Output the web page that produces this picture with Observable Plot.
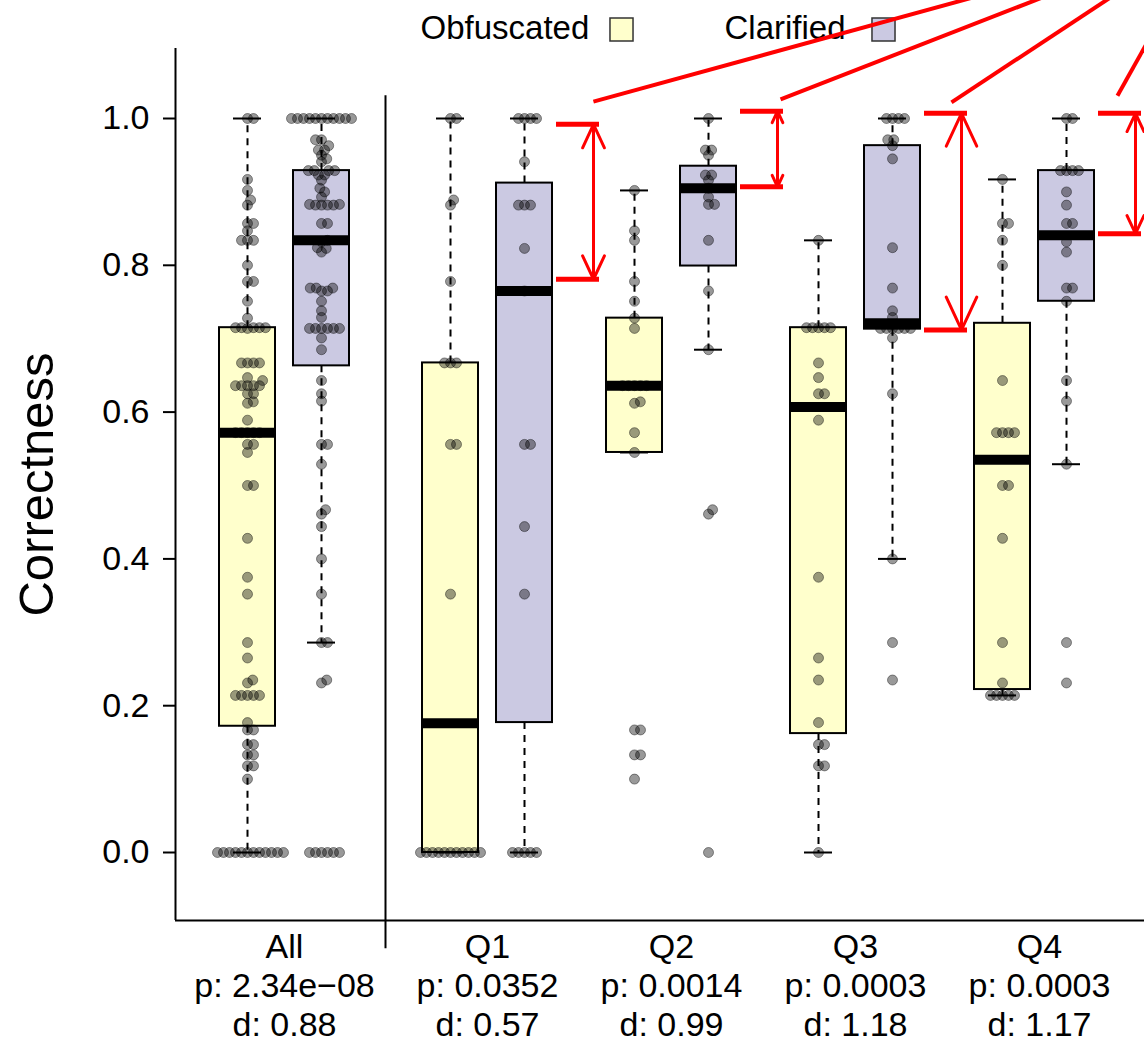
<!DOCTYPE html>
<html><head><meta charset="utf-8">
<script src="https://cdn.jsdelivr.net/npm/d3@7"></script>
<script src="https://cdn.jsdelivr.net/npm/@observablehq/plot@0.6"></script>
<style>body{margin:0;background:#fff;overflow:hidden}</style>
</head><body><div id="chart"></div>
<script>
// ---------- data ----------
const groups = ["All", "Q1", "Q2", "Q3", "Q4"];
const series = ["Obfuscated", "Clarified"];
const pLabels = ["2.34e\u221208", "0.0352", "0.0014", "0.0003", "0.0003"];
const dLabels = ["0.88", "0.57", "0.99", "1.18", "1.17"];
const yTicks = [0, 0.2, 0.4, 0.6, 0.8, 1.0];

const q1Obfuscated = [1, 1, 0.889, 0.882, 0.778, 0.667, 0.667, 0.667, 0.556, 0.556, 0.352, 0, 0, 0, 0, 0, 0, 0, 0, 0, 0, 0];
const q1Clarified = [1, 1, 1, 1, 0.941, 0.882, 0.882, 0.882, 0.823, 0.765, 0.556, 0.556, 0.444, 0.352, 0, 0, 0, 0, 0];
const q2Obfuscated = [0.902, 0.847, 0.834, 0.778, 0.751, 0.728, 0.714, 0.636, 0.636, 0.636, 0.636, 0.636, 0.614, 0.612, 0.572, 0.545, 0.167, 0.167, 0.133, 0.133, 0.100];
const q2Clarified = [1, 0.957, 0.957, 0.950, 0.923, 0.923, 0.916, 0.905, 0.893, 0.883, 0.883, 0.834, 0.765, 0.685, 0.467, 0.461, 0];
const q3Obfuscated = [0.834, 0.715, 0.715, 0.715, 0.715, 0.715, 0.667, 0.647, 0.625, 0.625, 0.589, 0.375, 0.265, 0.235, 0.177, 0.147, 0.147, 0.118, 0.118, 0];
const q3Clarified = [1, 1, 1, 1, 0.971, 0.971, 0.963, 0.945, 0.824, 0.769, 0.738, 0.729, 0.714, 0.714, 0.714, 0.714, 0.714, 0.714, 0.701, 0.625, 0.400, 0.286, 0.235];
const q4Obfuscated = [0.917, 0.857, 0.857, 0.834, 0.800, 0.643, 0.572, 0.572, 0.572, 0.572, 0.500, 0.500, 0.428, 0.286, 0.231, 0.214, 0.214, 0.214, 0.214, 0.214];
const q4Clarified = [1, 1, 0.929, 0.929, 0.929, 0.929, 0.900, 0.882, 0.857, 0.857, 0.832, 0.818, 0.769, 0.769, 0.751, 0.643, 0.615, 0.529, 0.286, 0.231];

// box statistics (All, Q1..Q4)
const obfWhiskerLow  = [0.000, 0.000, 0.545, 0.000, 0.214];
const obfHingeLow    = [0.172, 0.000, 0.545, 0.162, 0.222];
const obfMedian      = [0.572, 0.176, 0.636, 0.607, 0.535];
const obfHingeHigh   = [0.715, 0.667, 0.728, 0.715, 0.721];
const obfWhiskerHigh = [1.000, 1.000, 0.902, 0.834, 0.917];
const clarWhiskerLow  = [0.286, 0.000, 0.685, 0.400, 0.529];
const clarHingeLow    = [0.663, 0.177, 0.799, 0.713, 0.751];
const clarMedian      = [0.834, 0.765, 0.905, 0.721, 0.841];
const clarHingeHigh   = [0.929, 0.912, 0.935, 0.963, 0.929];
const clarWhiskerHigh = [1.000, 1.000, 1.000, 1.000, 1.000];

// red annotation brackets (Q1..Q4), in correctness units
const bracketGroups = ["Q1", "Q2", "Q3", "Q4"];
const bracketTop    = [0.992, 1.010, 1.007, 1.007];
const bracketBottom = [0.781, 0.907, 0.712, 0.843];
// pointer lines: start (x in slot units, y in correctness units) toward one common off-picture target
const pointerStartX = [1.880, 2.897, 3.826, 4.728];
const pointerStartY = [1.023, 1.026, 1.022, 1.031];
const pointerTargetX = 5.223, pointerTargetY = 1.253;

// ---------- layout ----------
const pxX = 184, pxY = 734;                 // pixels per unit on x and y
const pairGapPx = [74, 74, 74, 74, 64];      // distance between the two boxes of a group
const obfPos = (i) => (i === 0 ? 0 : i + 0.1033);
const seriesPos = (i, s) => obfPos(i) + (s === "Clarified" ? pairGapPx[i] / pxX : 0);
const groupMid = (i) => obfPos(i) + 37 / pxX;
const boxHalf = 28 / pxX, stapleHalf = 14 / pxX;
const xDomain = [(175 - 247) / pxX, (1144 - 247) / pxX];
const yDomain = [(852 - 920) / pxY, (852 - 48) / pxY];
const fills = {Obfuscated: "#ffffcc", Clarified: "#cbc9e2"};
const red = "#ff0000";

const perGroup = {
  Q1: {Obfuscated: q1Obfuscated, Clarified: q1Clarified},
  Q2: {Obfuscated: q2Obfuscated, Clarified: q2Clarified},
  Q3: {Obfuscated: q3Obfuscated, Clarified: q3Clarified},
  Q4: {Obfuscated: q4Obfuscated, Clarified: q4Clarified}
};
perGroup.All = {
  Obfuscated: [].concat(q1Obfuscated, q2Obfuscated, q3Obfuscated, q4Obfuscated),
  Clarified: [].concat(q1Clarified, q2Clarified, q3Clarified, q4Clarified)
};

// beeswarm ("swarm" method) offsets in pixels
function swarm(values, s) {
  const order = values.map((v, i) => i).sort((a, b) => values[a] - values[b]);
  const placed = [], out = new Array(values.length);
  for (const i of order) {
    const y = values[i] * pxY;
    const near = placed.filter(p => Math.abs(p.y - y) < s);
    const cands = [0];
    for (const p of near) {
      const dx = Math.sqrt(s * s - (p.y - y) ** 2);
      cands.push(p.x + dx, p.x - dx);
    }
    const ok = cands.filter(c => near.every(p => (p.x - c) ** 2 + (p.y - y) ** 2 >= s * s - 1e-6));
    ok.sort((a, b) => Math.abs(a) - Math.abs(b));
    placed.push({x: ok[0], y});
    out[i] = ok[0];
  }
  return out;
}

const points = [];
groups.forEach((g, gi) => series.forEach(s => {
  const vals = perGroup[g][s];
  const offs = swarm(vals, 6);
  vals.forEach((v, i) => points.push({group: g, series: s, value: v, x: seriesPos(gi, s) + offs[i] / pxX}));
}));

const boxes = [];
groups.forEach((g, i) => {
  boxes.push({group: g, series: "Obfuscated", x: seriesPos(i, "Obfuscated"), wl: obfWhiskerLow[i], hl: obfHingeLow[i], med: obfMedian[i], hh: obfHingeHigh[i], wh: obfWhiskerHigh[i]});
  boxes.push({group: g, series: "Clarified", x: seriesPos(i, "Clarified"), wl: clarWhiskerLow[i], hl: clarHingeLow[i], med: clarMedian[i], hh: clarHingeHigh[i], wh: clarWhiskerHigh[i]});
});

const brackets = bracketGroups.map((g, i) => {
  const cx = seriesPos(groups.indexOf(g), "Clarified");
  return {x1: cx + 32 / pxX, x2: cx + 75 / pxX, ax: cx + 69 / pxX, top: bracketTop[i], bottom: bracketBottom[i],
          mid: (bracketTop[i] + bracketBottom[i]) / 2, sx: pointerStartX[i], sy: pointerStartY[i]};
});

const labels = groups.map((g, i) => ({x: groupMid(i), text: `${g}\np: ${pLabels[i]}\nd: ${dLabels[i]}`}));

const chart = Plot.plot({
  width: 1144, height: 1041,
  marginLeft: 175, marginRight: 0, marginTop: 48, marginBottom: 121,
  style: {fontFamily: "'Liberation Sans', Arial, Helvetica, sans-serif", background: "white", overflow: "visible"},
  x: {domain: xDomain, axis: null},
  y: {domain: yDomain, axis: null},
  marks: [
    Plot.axisY(yTicks, {anchor: "left", tickFormat: d3.format(".1f"), tickSize: 12, tickPadding: 14, fontSize: 34, strokeWidth: 2, label: null, color: "black"}),
    Plot.text(["Correctness"], {frameAnchor: "left", textAnchor: "middle", lineAnchor: "middle", rotate: -90, dx: -138, fontSize: 49, fill: "black"}),
    // boxes and whiskers
    Plot.rect(boxes, {x1: d => d.x - boxHalf, x2: d => d.x + boxHalf, y1: "hl", y2: "hh", fill: d => fills[d.series], stroke: "black", strokeWidth: 2}),
    Plot.ruleX(boxes, {x: "x", y1: "hh", y2: "wh", stroke: "black", strokeWidth: 2, strokeDasharray: "7,6"}),
    Plot.ruleX(boxes, {x: "x", y1: "hl", y2: "wl", stroke: "black", strokeWidth: 2, strokeDasharray: "7,6"}),
    Plot.ruleY(boxes, {y: "wh", x1: d => d.x - stapleHalf, x2: d => d.x + stapleHalf, stroke: "black", strokeWidth: 2}),
    Plot.ruleY(boxes, {y: "wl", x1: d => d.x - stapleHalf, x2: d => d.x + stapleHalf, stroke: "black", strokeWidth: 2}),
    Plot.ruleY(boxes, {y: "med", x1: d => d.x - boxHalf, x2: d => d.x + boxHalf, stroke: "black", strokeWidth: 10}),
    // beeswarm points
    Plot.dot(points, {x: "x", y: "value", r: 5, fill: "black", fillOpacity: 0.4, stroke: "black", strokeOpacity: 0.4, strokeWidth: 1}),
    // frame (left + bottom) and separator
    Plot.ruleX([xDomain[0]], {stroke: "black", strokeWidth: 2}),
    Plot.ruleY([yDomain[0]], {stroke: "black", strokeWidth: 2}),
    Plot.ruleX([0.75], {y1: 1.031, y2: -0.131, stroke: "black", strokeWidth: 2}),
    // category labels
    Plot.text(labels, {x: "x", text: "text", frameAnchor: "bottom", lineAnchor: "top", dy: 10, fontSize: 34, lineHeight: 1.14, fill: "black"}),
    // legend
    Plot.text(["Obfuscated"], {frameAnchor: "top-left", dx: 245, dy: -20, textAnchor: "start", lineAnchor: "middle", fontSize: 33, fill: "black"}),
    Plot.dot(["Obfuscated"], {frameAnchor: "top-left", dx: 446, dy: -19, symbol: "square", r: 13, fill: fills.Obfuscated, stroke: "#333", strokeWidth: 1.5}),
    Plot.text(["Clarified"], {frameAnchor: "top-left", dx: 549, dy: -20, textAnchor: "start", lineAnchor: "middle", fontSize: 33, fill: "black"}),
    Plot.dot(["Clarified"], {frameAnchor: "top-left", dx: 708, dy: -19, symbol: "square", r: 13, fill: fills.Clarified, stroke: "#333", strokeWidth: 1.5}),
    // red annotations
    Plot.ruleY(brackets, {y: "top", x1: "x1", x2: "x2", stroke: red, strokeWidth: 5}),
    Plot.ruleY(brackets, {y: "bottom", x1: "x1", x2: "x2", stroke: red, strokeWidth: 5}),
    Plot.arrow(brackets, {x1: "ax", x2: "ax", y1: "mid", y2: "top", stroke: red, strokeWidth: 3, headLength: 22, headAngle: 50}),
    Plot.arrow(brackets, {x1: "ax", x2: "ax", y1: "mid", y2: "bottom", stroke: red, strokeWidth: 3, headLength: 22, headAngle: 50}),
    Plot.link(brackets, {x1: "sx", y1: "sy", x2: () => pointerTargetX, y2: () => pointerTargetY, stroke: red, strokeWidth: 4})
  ]
});
document.getElementById("chart").appendChild(chart);
</script>
</body></html>
